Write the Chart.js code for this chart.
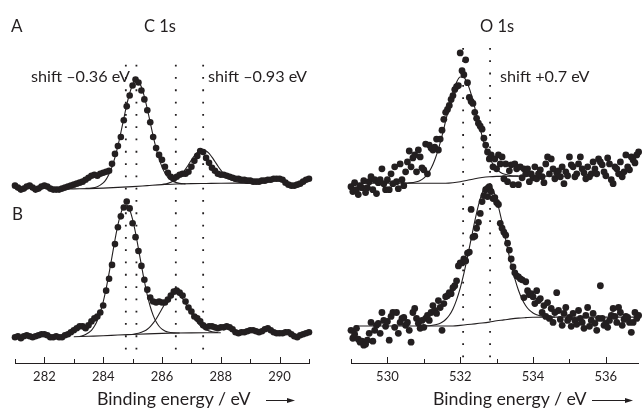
<!DOCTYPE html>
<html>
<head>
<meta charset="utf-8">
<script src="https://cdn.jsdelivr.net/npm/chart.js@4.4.1/dist/chart.umd.min.js"></script>
<style>
  html, body { margin: 0; padding: 0; background: #fff; }
  #wrap { position: relative; width: 642px; height: 410px; overflow: hidden; }
  #c1s { position: absolute; left: 0; top: 0; }
  #o1s { position: absolute; left: 320px; top: 0; }
  #labels { position: absolute; left: 0; top: 0; pointer-events: none; }
  #labels text { font-family: Lato, sans-serif; fill: #231f20; }
</style>
</head>
<body>
<div id="wrap">
  <canvas id="c1s" width="320" height="410"></canvas>
  <canvas id="o1s" width="322" height="410"></canvas>
  <svg id="labels" width="642" height="410">
    <text x="11" y="32" font-size="17">A</text>
    <text x="12" y="219.5" font-size="17">B</text>
    <text x="144" y="32" font-size="16.5">C 1s</text>
    <text x="480" y="32" font-size="16.5">O 1s</text>
    <text x="31" y="82" font-size="16.2">shift –0.36 eV</text>
    <text x="208" y="82" font-size="16.2">shift –0.93 eV</text>
    <text x="500" y="82" font-size="16.2">shift +0.7 eV</text>
    <text x="97" y="405" font-size="17.8">Binding energy / eV</text>
    <text x="433" y="405" font-size="17.8">Binding energy / eV</text>
    <g stroke="#231f20" stroke-width="1">
      <line x1="266" y1="400.5" x2="289" y2="400.5"/>
      <line x1="592" y1="400.5" x2="627" y2="400.5"/>
    </g>
    <g fill="#231f20">
      <polygon points="287,398 295,400.5 287,403"/>
      <polygon points="625,398 633,400.5 625,403"/>
    </g>
  </svg>
</div>
<script>
const INK = '#231f20';

// C 1s spectra, 0.1 eV steps from 281.0 eV (intensity, a.u., B stacked below A)
const c1sStart = 281.0;
const c1sStep = 0.1;
const c1sA = [
  179,177,175,176,178,179,177,175,176,178,
  179,178,176,175,175,175,176,177,178,179,
  180,181,182,183,185,187,189,190,189,191,
  192,193,194,201,211,219,228,245,259,270,
  280,286,283,275,266,255,243,228,217,210,
  205,198,192,188,186,188,190,191,191,193,
  198,204,209,214,213,207,202,197,194,191,
  190,190,189,188,187,186,186,185,185,184,
  184,183,183,183,184,184,185,185,186,186,
  186,185,182,180,179,179,180,181,183,185,
  186
];
const c1sB = [
  26,27,25,27,28,27,26,27,28,29,
  29,28,26,26,27,26,26,28,29,31,
  33,35,37,37,35,38,42,45,47,51,
  58,73,85,99,120,137,148,157,163,156,
  141,127,113,98,84,74,66,62,61,62,
  61,61,64,68,72,73,71,68,62,56,
  52,47,45,42,38,36,37,37,36,35,
  36,36,37,36,34,31,30,31,31,32,
  33,33,32,31,32,34,35,33,31,30,
  30,30,31,31,29,27,26,28,29,30,
  31
];

// C 1s fit: background and components [eV, intensity]
const c1sABackground = [[282.7,175.5],[283.0,175.7],[283.5,176],[284.0,176.5],[284.5,177.2],[285.0,178],[285.5,179],[286.0,180],[286.5,180.6],[287.0,181],[287.5,181.2],[288.0,181.4],[288.5,181.5],[289.0,181.5]];
const c1sAMain = [[283.4,176.2],[283.6,176.5],[283.8,177.9],[284.0,181.7],[284.1,185.3],[284.2,190.7],[284.3,197.9],[284.4,207.5],[284.5,219.1],[284.6,232.5],[284.7,246.6],[284.8,260.4],[284.9,272.2],[285.0,280.8],[285.1,285.0],[285.2,284.1],[285.3,278.5],[285.4,268.9],[285.5,256.4],[285.6,242.7],[285.7,229.0],[285.8,216.6],[285.9,206.2],[286.0,197.9],[286.1,191.7],[286.2,187.4],[286.3,184.6],[286.4,182.9],[286.6,181.3],[286.8,180.8]];
const c1sASecond = [[286.0,180.2],[286.2,181.3],[286.4,183.7],[286.5,185.6],[286.6,188.3],[286.7,191.7],[286.8,195.7],[286.9,200.1],[287.0,204.8],[287.1,209.0],[287.2,212.5],[287.3,214.6],[287.4,215.2],[287.5,214.0],[287.6,211.5],[287.7,207.7],[287.8,203.3],[287.9,198.8],[288.0,194.6],[288.1,190.9],[288.2,187.9],[288.3,185.7],[288.4,184.1],[288.6,182.4],[288.8,181.7],[289.0,181.5]];
const c1sBBackground = [[283.0,26.5],[283.5,27],[284.0,27.5],[284.5,28.2],[285.0,28.8],[285.5,29.4],[286.0,29.9],[286.5,30.2],[287.0,30.4],[287.5,30.5],[288.0,30.5]];
const c1sBMain = [[283.2,26.7],[283.4,28.8],[283.6,33.0],[283.7,37.0],[283.8,42.9],[283.9,51.0],[284.0,61.7],[284.1,75.0],[284.2,90.6],[284.3,107.4],[284.4,124.1],[284.5,139.3],[284.6,151.0],[284.7,158.1],[284.8,159.3],[284.9,154.7],[285.0,145.0],[285.1,131.3],[285.2,115.2],[285.3,98.6],[285.4,82.6],[285.5,68.6],[285.6,57.0],[285.7,48.1],[285.8,41.6],[285.9,37.1],[286.0,34.2],[286.1,32.4],[286.2,31.3],[286.4,30.4],[286.6,30.2]];
const c1sBSecond = [[285.0,29.0],[285.2,30.0],[285.4,32.3],[285.5,34.1],[285.6,36.8],[285.7,40.2],[285.8,44.4],[285.9,49.4],[286.0,54.7],[286.1,59.9],[286.2,64.5],[286.3,68.0],[286.4,70.0],[286.5,70.0],[286.6,68.1],[286.7,64.8],[286.8,60.2],[286.9,55.1],[287.0,50.0],[287.1,45.1],[287.2,41.0],[287.3,37.7],[287.4,35.2],[287.5,33.5],[287.7,31.5],[287.9,30.7]];

// O 1s spectra, 0.05 eV steps from 529.0 eV
const o1sStart = 529.0;
const o1sStep = 0.05;
const o1sA = [
  178,173,182,175,170,179,177,184,172,177,183,188,175,185,171,182,185,196,181,175,
  185,175,191,181,198,183,176,201,185,179,193,203,214,198,207,210,193,215,208,197,
  195,221,191,220,217,215,218,226,215,226,235,246,253,256,260,266,270,276,279,280,
  313,295,291,306,283,268,264,262,253,247,242,239,236,227,220,213,206,210,198,206,
  196,210,201,208,186,201,183,194,200,180,201,196,180,198,187,196,191,196,183,191,
  187,198,186,191,195,188,182,201,208,191,206,196,186,192,194,188,198,181,193,189,
  208,200,198,188,191,201,208,196,192,186,198,188,191,203,196,191,206,203,200,193,
  189,207,201,185,181,198,196,191,203,188,193,210,198,195,208,205,202,210,213
];
const o1sB = [
  33,25,29,35,24,21,22,18,19,23,30,41,22,33,38,40,30,51,43,37,
  42,23,47,51,36,51,30,41,45,46,38,41,33,21,51,55,45,40,35,43,
  36,45,48,43,51,58,53,50,63,56,33,60,67,68,71,70,76,78,83,98,
  101,101,105,103,111,112,155,127,128,136,142,151,163,169,175,168,178,173,166,167,
  162,160,141,136,132,129,121,114,105,97,91,88,87,85,84,66,82,73,69,70,
  67,60,73,63,65,51,58,47,61,45,55,41,51,71,53,44,38,50,56,43,
  46,37,50,43,39,53,45,41,35,48,56,37,43,50,40,33,45,78,45,38,
  40,36,43,48,55,47,41,56,51,38,44,47,46,41,31,41,51,45,48
];

// O 1s fit
const o1sABackground = [[529.0,181.5],[531.6,181.5],[531.8,182],[532.0,183],[532.2,184.5],[532.4,186],[532.6,187.2],[532.8,188],[533.0,188.4],[533.5,188.6],[535.0,188.6]];
const o1sAPeak = [[530.4,181.5],[530.6,181.8],[530.8,183.0],[530.9,184.3],[531.0,186.7],[531.1,190.6],[531.2,196.5],[531.3,204.9],[531.4,215.9],[531.5,229.3],[531.6,244.3],[531.7,259.5],[531.8,273.3],[531.9,283.5],[532.0,288.7],[532.1,288.2],[532.2,282.1],[532.3,271.4],[532.4,257.9],[532.5,243.3],[532.6,229.4],[532.7,217.3],[532.8,207.7],[532.9,200.6],[533.0,195.8],[533.1,192.5],[533.2,190.7],[533.4,189.1],[533.6,188.6]];
const o1sBBackground = [[529.1,37.3],[531.8,37.3],[532.0,38],[532.2,38.8],[532.4,39.5],[532.6,40.3],[532.8,41.3],[533.0,42.6],[533.2,43.5],[533.4,44.5],[533.6,45.3],[533.8,45.8],[534.0,46.2],[534.5,46.3],[536.9,46.3]];
const o1sBPeak = [[531.0,37.4],[531.2,37.9],[531.4,39.4],[531.5,41.1],[531.6,43.9],[531.7,48.2],[531.8,54.6],[531.9,63.7],[532.0,75.6],[532.1,90.3],[532.2,107.1],[532.3,125.2],[532.4,143.2],[532.5,159.2],[532.6,171.5],[532.7,178.7],[532.8,179.8],[532.9,174.9],[533.0,164.6],[533.1,150.0],[533.2,133.2],[533.3,115.8],[533.4,99.5],[533.5,85.2],[533.6,73.4],[533.7,64.3],[533.8,57.8],[533.9,53.3],[534.0,50.5],[534.1,48.6],[534.2,47.6],[534.4,46.6],[534.6,46.3]];

// peak positions marked with dotted lines (eV)
const c1sMarks = [284.77, 285.13, 286.47, 287.40];
const o1sMarks = [532.08, 532.82];
const c1sMarkSpan = [301, 3];
const o1sMarkSpan = [318, -4];

function spectrum(start, step, values) {
  return values.map((v, i) => ({ x: +(start + i * step).toFixed(2), y: v }));
}

function dots(data, r) {
  return { data, pointRadius: r, pointHoverRadius: r, backgroundColor: INK, borderWidth: 0, clip: false };
}

function curve(list) {
  return {
    data: list.map(p => ({ x: p[0], y: p[1] })),
    showLine: true, pointRadius: 0, borderColor: INK, borderWidth: 1.1,
    cubicInterpolationMode: 'monotone', fill: false
  };
}

function mark(e, span) {
  return {
    data: [{ x: e, y: span[0] }, { x: e, y: span[1] }],
    showLine: true, pointRadius: 0, borderColor: INK, borderWidth: 1.8,
    borderDash: [1.8, 10.5], clip: false
  };
}

const isInt = v => Math.abs(v - Math.round(v)) < 1e-6;

// tick marks point up into the plot, long ones at labelled values
const innerTicks = {
  id: 'innerTicks',
  afterDraw(chart) {
    const s = chart.scales.x;
    const ctx = chart.ctx;
    ctx.save();
    ctx.strokeStyle = INK;
    ctx.lineWidth = 1;
    s.ticks.forEach(t => {
      if (!isInt(t.value)) return;
      const px = Math.round(s.getPixelForValue(t.value)) + 0.5;
      const len = Math.round(t.value) % 2 === 0 ? 6 : 4;
      ctx.beginPath();
      ctx.moveTo(px, s.top);
      ctx.lineTo(px, s.top - len);
      ctx.stroke();
    });
    ctx.restore();
  }
};

function xpsOptions(min, max, pad) {
  return {
    responsive: false,
    animation: false,
    devicePixelRatio: 1,
    events: [],
    layout: { padding: pad },
    plugins: { legend: { display: false }, tooltip: { enabled: false } },
    scales: {
      x: {
        type: 'linear', position: 'bottom', min, max,
        afterFit: s => { s.height = 47; },
        grid: { display: false, drawTicks: false },
        border: { display: true, color: INK, width: 1 },
        ticks: {
          stepSize: 1, includeBounds: false, autoSkip: false, maxRotation: 0,
          padding: 6, color: INK, font: { family: 'Lato', size: 13 },
          callback: v => (isInt(v) && Math.round(v) % 2 === 0 ? String(Math.round(v)) : '')
        }
      },
      y: { display: false, min: 0, max: 363 }
    }
  };
}

new Chart(document.getElementById('c1s'), {
  type: 'scatter',
  data: {
    datasets: [
      dots(spectrum(c1sStart, c1sStep, c1sA), 3.3),
      dots(spectrum(c1sStart, c1sStep, c1sB), 3.3),
      curve(c1sABackground), curve(c1sAMain), curve(c1sASecond),
      curve(c1sBBackground), curve(c1sBMain), curve(c1sBSecond),
      ...c1sMarks.map(e => mark(e, c1sMarkSpan))
    ]
  },
  options: xpsOptions(281, 291, { left: 15, right: 11, top: 0, bottom: 0 }),
  plugins: [innerTicks]
});

new Chart(document.getElementById('o1s'), {
  type: 'scatter',
  data: {
    datasets: [
      dots(spectrum(o1sStart, o1sStep, o1sA), 3.4),
      dots(spectrum(o1sStart, o1sStep, o1sB), 3.4),
      curve(o1sABackground), curve(o1sAPeak),
      curve(o1sBBackground), curve(o1sBPeak),
      ...o1sMarks.map(e => mark(e, o1sMarkSpan))
    ]
  },
  options: xpsOptions(529, 536.9, { left: 31, right: 0, top: 0, bottom: 0 }),
  plugins: [innerTicks]
});
</script>
</body>
</html>
